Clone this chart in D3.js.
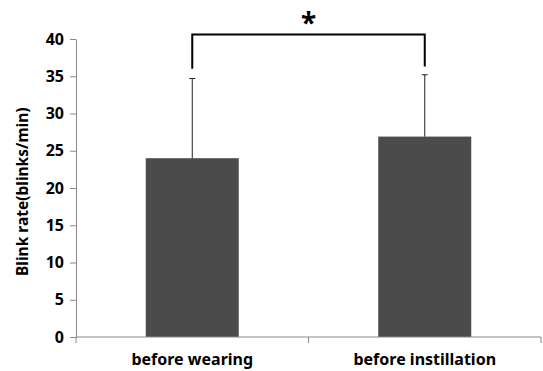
<!DOCTYPE html>
<html>
<head>
<meta charset="utf-8">
<script src="https://cdn.jsdelivr.net/npm/d3@7"></script>
<style>
  body { margin: 0; background: #fff; }
  text { font-family: "Noto Sans", "Open Sans", sans-serif; font-weight: bold; fill: #000; }
</style>
</head>
<body>
<div id="chart"></div>
<script>
const categories = ["before wearing", "before instillation"];
const means = [24, 26.9];
const errors = [10.7, 8.3];
const yTicks = [0, 5, 10, 15, 20, 25, 30, 35, 40];
const bracketLevel = 40.6;
const bracketLegs = [36, 36.3];

const width = 543;
const height = 371;
const margin = { top: 39, right: 2, bottom: 34, left: 76 };

const svg = d3.select("#chart")
    .append("svg")
    .attr("width", width)
    .attr("height", height);

const xScale = d3.scaleBand()
    .domain(categories)
    .range([margin.left, width - margin.right])
    .paddingInner(0.6)
    .paddingOuter(0.3);

const yScale = d3.scaleLinear()
    .domain([0, 40])
    .range([height - margin.bottom, margin.top]);

// y axis
const yAxis = svg.append("g")
    .attr("transform", `translate(${margin.left},0)`)
    .call(d3.axisLeft(yScale).tickValues(yTicks).tickSize(6).tickPadding(6).tickSizeOuter(0));
yAxis.select(".domain").attr("stroke", "#888");
yAxis.selectAll(".tick line").attr("stroke", "#888");
yAxis.selectAll(".tick text").style("font-size", "16px");

// bars
svg.selectAll("rect.bar")
    .data(categories)
    .enter()
    .append("rect")
    .attr("class", "bar")
    .attr("x", d => xScale(d))
    .attr("width", xScale.bandwidth())
    .attr("y", (d, i) => yScale(means[i]))
    .attr("height", (d, i) => yScale(0) - yScale(means[i]))
    .attr("fill", "#4b4b4b");

// error bars (upward only)
const cx = d => xScale(d) + xScale.bandwidth() / 2;
svg.selectAll("line.err")
    .data(categories)
    .enter()
    .append("line")
    .attr("x1", cx).attr("x2", cx)
    .attr("y1", (d, i) => yScale(means[i]))
    .attr("y2", (d, i) => yScale(means[i] + errors[i]))
    .attr("stroke", "#222")
    .attr("stroke-width", 1);
svg.selectAll("line.cap")
    .data(categories)
    .enter()
    .append("line")
    .attr("x1", d => cx(d) - 3).attr("x2", d => cx(d) + 3)
    .attr("y1", (d, i) => yScale(means[i] + errors[i]))
    .attr("y2", (d, i) => yScale(means[i] + errors[i]))
    .attr("stroke", "#222")
    .attr("stroke-width", 1);

// x axis
const xAxisScale = d3.scaleLinear().domain([0, 2]).range([margin.left, width - margin.right]);
const xAxis = svg.append("g")
    .attr("transform", `translate(0,${yScale(0)})`);
xAxis.append("line")
    .attr("x1", xAxisScale(0)).attr("x2", xAxisScale(2))
    .attr("stroke", "#888");
xAxis.selectAll("line.tk")
    .data([0, 1, 2])
    .enter()
    .append("line")
    .attr("x1", d => xAxisScale(d)).attr("x2", d => xAxisScale(d))
    .attr("y1", 0).attr("y2", 6)
    .attr("stroke", "#888");
xAxis.selectAll("text")
    .data(categories)
    .enter()
    .append("text")
    .attr("x", cx)
    .attr("y", 28)
    .attr("text-anchor", "middle")
    .style("font-size", "16px")
    .text(d => d);

// significance bracket
const bx = categories.map(cx);
svg.append("path")
    .attr("d", `M${bx[0]},${yScale(bracketLegs[0])}V${yScale(bracketLevel)}H${bx[1]}V${yScale(bracketLegs[1])}`)
    .attr("fill", "none")
    .attr("stroke", "#000")
    .attr("stroke-width", 2);
svg.append("text")
    .attr("x", (bx[0] + bx[1]) / 2)
    .attr("y", yScale(bracketLevel) - 2)
    .attr("text-anchor", "middle")
    .style("font-size", "28px")
    .text("*");

// y label
svg.append("text")
    .attr("transform", `translate(28,${yScale(19.5)}) rotate(-90)`)
    .attr("text-anchor", "middle")
    .style("font-size", "15.5px")
    .text("Blink rate(blinks/min)");
</script>
</body>
</html>
